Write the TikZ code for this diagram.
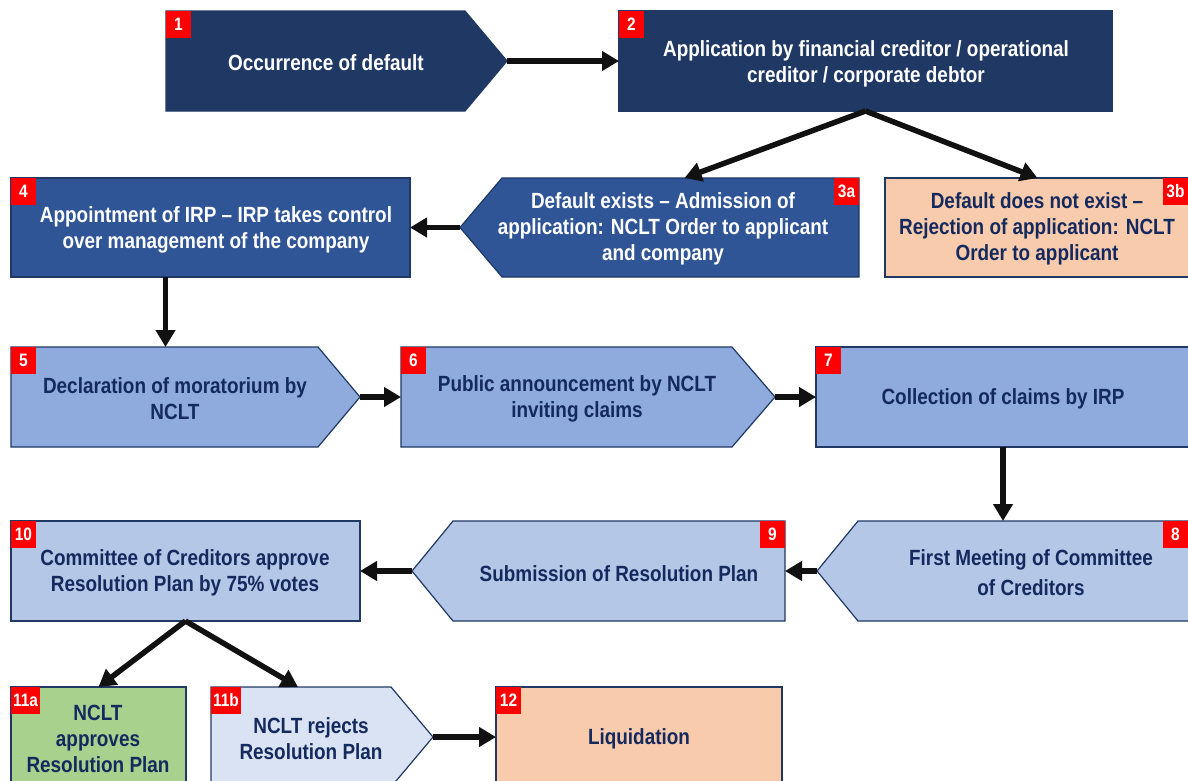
\documentclass[tikz,border=0pt]{standalone}
\usepackage{fontspec}
\setmainfont{Liberation Sans}[FakeStretch=0.86]
\usetikzlibrary{arrows.meta,fit}

\definecolor{navyA}{HTML}{203864}
\definecolor{blueB}{HTML}{2F5597}
\definecolor{blueC}{HTML}{8FAADC}
\definecolor{blueD}{HTML}{B4C7E7}
\definecolor{blueE}{HTML}{DAE3F3}
\definecolor{greenA}{HTML}{A9D18E}
\definecolor{peach}{HTML}{F8CBAD}
\definecolor{edgec}{HTML}{1F3864}
\definecolor{navytxt}{HTML}{142A5E}
\definecolor{badgered}{HTML}{FF0000}
\definecolor{arrowc}{HTML}{111111}

\tikzset{
  frame/.style={inner sep=0pt, outer sep=0pt},
  edge/.style={draw=edgec, line width=1.2pt, line join=miter},
  txt/.style={align=center, font=\fontsize{22}{26}\selectfont\bfseries, inner sep=0pt, yshift=-2pt},
  light/.style={txt, text=white},
  dark/.style={txt, text=navytxt},
  badge/.style={fill=badgered, text=white, font=\fontsize{18}{18}\selectfont\bfseries,
    minimum width=25pt, minimum height=27pt, inner xsep=2pt, inner ysep=0pt, outer sep=0pt},
  flow/.style={draw=arrowc, line width=5.5pt, -{Triangle[length=17pt,width=19pt]}},
}

\begin{document}
\begin{tikzpicture}[x=1pt, y=-1pt]
\fill[white] (0,0) rectangle (1188,780);
\useasboundingbox (0,0) rectangle (1188,780);

% ---------- row 1 ----------
\node[frame, fit={(166,11) (507,111)}] (b1) {};
\filldraw[edge, fill=navyA] (b1.north west) -- ([xshift=-42pt]b1.north east) -- (b1.east)
  -- ([xshift=-42pt]b1.south east) -- (b1.south west) -- cycle;
\node[light] (t1) at (326,61) {Occurrence of default};
\node[badge, anchor=north west] (k1) at (b1.north west) {1};

\node[frame, edge, fill=navyA, fit={(619,11) (1112,111)}] (b2) {};
\node[light] (t2) at (866,62) {Application by financial creditor / operational\\creditor / corporate debtor};
\node[badge, anchor=north west] (k2) at (b2.north west) {2};

% ---------- row 2 ----------
\node[frame, edge, fill=blueB, fit={(11,178) (410,277)}] (b4) {};
\node[light] (t4) at (216,228) {Appointment of IRP -- IRP takes control\\over management of the company};
\node[badge, anchor=north west] (k4) at (b4.north west) {4};

\node[frame, fit={(460,178) (859,277)}] (b3a) {};
\filldraw[edge, fill=blueB] (b3a.west) -- ([xshift=42pt]b3a.north west) -- (b3a.north east)
  -- (b3a.south east) -- ([xshift=42pt]b3a.south west) -- cycle;
\node[light] (t3a) at (663,227) {Default exists -- Admission of\\application: NCLT Order to applicant\\and company};
\node[badge, anchor=north east] (k3a) at (b3a.north east) {3a};

\node[frame, edge, fill=peach, fit={(885,178) (1190,277)}] (b3b) {};
\node[dark] (t3b) at (1037,227) {Default does not exist --\\Rejection of application: NCLT\\Order to applicant};
\node[badge, anchor=north east] (k3b) at ([xshift=-2pt]b3b.north east) {3b};

% ---------- row 3 ----------
\node[frame, fit={(11,347) (360,447)}] (b5) {};
\filldraw[edge, fill=blueC] (b5.north west) -- ([xshift=-42pt]b5.north east) -- (b5.east)
  -- ([xshift=-42pt]b5.south east) -- (b5.south west) -- cycle;
\node[dark] (t5) at (175,397) {Declaration of moratorium by\\NCLT};
\node[badge, anchor=north west] (k5) at (b5.north west) {5};

\node[frame, fit={(401,347) (775,447)}] (b6) {};
\filldraw[edge, fill=blueC] (b6.north west) -- ([xshift=-43pt]b6.north east) -- (b6.east)
  -- ([xshift=-43pt]b6.south east) -- (b6.south west) -- cycle;
\node[dark] (t6) at (577,397) {Public announcement by NCLT\\inviting claims};
\node[badge, anchor=north west] (k6) at (b6.north west) {6};

\node[frame, edge, fill=blueC, fit={(816,347) (1190,447)}] (b7) {};
\node[dark] (t7) at (1003,397) {Collection of claims by IRP};
\node[badge, anchor=north west] (k7) at (b7.north west) {7};

% ---------- row 4 ----------
\node[frame, fit={(817,521) (1190,621)}] (b8) {};
\filldraw[edge, fill=blueD] (b8.west) -- ([xshift=41pt]b8.north west) -- (b8.north east)
  -- (b8.south east) -- ([xshift=41pt]b8.south west) -- cycle;
\node[dark, font=\fontsize{22}{30}\selectfont\bfseries] (t8) at (1031,571) {First Meeting of Committee\\of Creditors};
\node[badge, anchor=north east] (k8) at ([xshift=-2pt]b8.north east) {8};

\node[frame, fit={(412,521) (785,621)}] (b9) {};
\filldraw[edge, fill=blueD] (b9.west) -- ([xshift=41pt]b9.north west) -- (b9.north east)
  -- (b9.south east) -- ([xshift=41pt]b9.south west) -- cycle;
\node[dark] (t9) at (619,572) {Submission of Resolution Plan};
\node[badge, anchor=north east] (k9) at (b9.north east) {9};

\node[frame, edge, fill=blueD, fit={(11,521) (360,621)}] (b10) {};
\node[dark] (t10) at (185,571) {Committee of Creditors approve\\Resolution Plan by 75\% votes};
\node[badge, anchor=north west] (k10) at (b10.north west) {10};

% ---------- row 5 ----------
\node[frame, edge, fill=greenA, fit={(11,687) (186,787)}] (b11a) {};
\node[dark] (t11a) at (98,737) {NCLT\\approves\\Resolution Plan};
\node[badge, anchor=north west] (k11a) at (b11a.north west) {11a};

\node[frame, fit={(211,687) (433,787)}] (b11b) {};
\filldraw[edge, fill=blueE] (b11b.north west) -- ([xshift=-42pt]b11b.north east) -- (b11b.east)
  -- ([xshift=-42pt]b11b.south east) -- (b11b.south west) -- cycle;
\node[dark] (t11b) at (311,737) {NCLT rejects\\Resolution Plan};
\node[badge, anchor=north west] (k11b) at (b11b.north west) {11b};

\node[frame, edge, fill=peach, fit={(496,687) (782,787)}] (b12) {};
\node[dark] (t12) at (639,737) {Liquidation};
\node[badge, anchor=north west] (k12) at (b12.north west) {12};

% ---------- connectors ----------
\draw[flow] (b1.east) -- (b2.west);
\draw[flow] (b2.south) -- ([xshift=25pt]b3a.north);
\draw[flow] (b2.south) -- (b3b.north);
\draw[flow] (b3a.west) -- (b4.east);
\draw[flow] ([xshift=-45pt]b4.south) -- ([xshift=-45pt]b4.south |- b5.north);
\draw[flow] (b5.east) -- (b6.west);
\draw[flow] (b6.east) -- (b7.west);
\draw[flow] (b7.south) -- (b7.south |- b8.north);
\draw[flow] (b8.west) -- (b9.east);
\draw[flow] (b9.west) -- (b10.east);
\draw[flow] (b10.south) -- (b11a.north);
\draw[flow] (b10.south) -- ([xshift=-24pt]b11b.north);
\draw[flow] (b11b.east) -- (b12.west);
\end{tikzpicture}
\end{document}
